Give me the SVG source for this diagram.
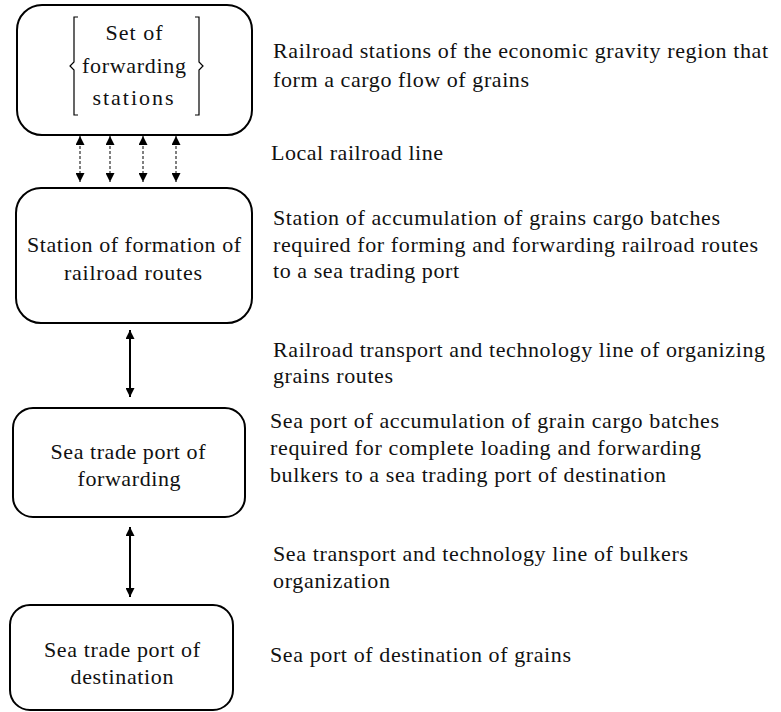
<svg xmlns="http://www.w3.org/2000/svg" width="781" height="712" viewBox="0 0 781 712">
<style>
.box{fill:#fff;stroke:#000;stroke-width:2}
.t{font-family:'Liberation Serif','Times New Roman',serif;font-size:22px;fill:#111}
.c{text-anchor:middle}
.dash{stroke:#000;stroke-width:1;stroke-dasharray:3,2;fill:none}
.solid{stroke:#000;stroke-width:2;fill:none}
.br{stroke:#000;stroke-width:1.2;fill:none}
</style>
<defs>
<marker id="ah" viewBox="0 0 10 10" refX="10" refY="5" markerWidth="9" markerHeight="9" markerUnits="userSpaceOnUse" orient="auto-start-reverse">
<path d="M0,0 L10,5 L0,10 Z" fill="#000"/>
</marker>
</defs>
<g id="n1">
<rect class="box" x="17" y="5" width="235" height="130" rx="25"/>
<path class="br" d="M78,17 L74,17 L74,62 L70,66 L74,70 L74,115 L78,115"/>
<path class="br" d="M195,17 L199,17 L199,62 L203,66 L199,70 L199,115 L195,115"/>
<text class="t c" x="134" y="40" textLength="57">Set of</text>
<text class="t c" x="134" y="73" textLength="104">forwarding</text>
<text class="t c" x="133" y="105" textLength="81">stations</text>
</g>
<g id="n2">
<rect class="box" x="16" y="188" width="236" height="135" rx="25"/>
<text class="t c" x="134" y="252" textLength="214">Station of formation of</text>
<text class="t c" x="133" y="280" textLength="138">railroad routes</text>
</g>
<g id="n3">
<rect class="box" x="13" y="408" width="232" height="109" rx="20"/>
<text class="t c" x="128" y="459" textLength="155">Sea trade port of</text>
<text class="t c" x="129" y="486" textLength="103">forwarding</text>
</g>
<g id="n4">
<rect class="box" x="10" y="605" width="223" height="105" rx="20"/>
<text class="t c" x="122" y="657" textLength="156">Sea trade port of</text>
<text class="t c" x="122" y="684" textLength="103">destination</text>
</g>
<g id="connectors">
<line class="dash" x1="80" y1="136" x2="80" y2="182" marker-start="url(#ah)" marker-end="url(#ah)"/>
<line class="dash" x1="110" y1="136" x2="110" y2="182" marker-start="url(#ah)" marker-end="url(#ah)"/>
<line class="dash" x1="143" y1="136" x2="143" y2="182" marker-start="url(#ah)" marker-end="url(#ah)"/>
<line class="dash" x1="176" y1="136" x2="176" y2="182" marker-start="url(#ah)" marker-end="url(#ah)"/>
<line class="solid" x1="130" y1="330" x2="130" y2="397" marker-start="url(#ah)" marker-end="url(#ah)"/>
<line class="solid" x1="130" y1="527" x2="130" y2="597" marker-start="url(#ah)" marker-end="url(#ah)"/>
</g>
<g id="labels">
<text class="t" x="273" y="58" textLength="495">Railroad stations of the economic gravity region that</text>
<text class="t" x="273" y="87" textLength="256">form a cargo flow of grains</text>
<text class="t" x="271" y="160" textLength="172">Local railroad line</text>
<text class="t" x="273" y="225" textLength="447">Station of accumulation of grains cargo batches</text>
<text class="t" x="273" y="252" textLength="485">required for forming and forwarding railroad routes</text>
<text class="t" x="273" y="278" textLength="186">to a sea trading port</text>
<text class="t" x="273" y="357" textLength="492">Railroad transport and technology line of organizing</text>
<text class="t" x="273" y="383" textLength="120">grains routes</text>
<text class="t" x="270" y="428" textLength="449">Sea port of accumulation of grain cargo batches</text>
<text class="t" x="270" y="455" textLength="431">required for complete loading and forwarding</text>
<text class="t" x="270" y="482" textLength="396">bulkers to a sea trading port of destination</text>
<text class="t" x="273" y="561" textLength="415">Sea transport and technology line of bulkers</text>
<text class="t" x="273" y="588" textLength="117">organization</text>
<text class="t" x="270" y="662" textLength="301">Sea port of destination of grains</text>
</g>
</svg>
